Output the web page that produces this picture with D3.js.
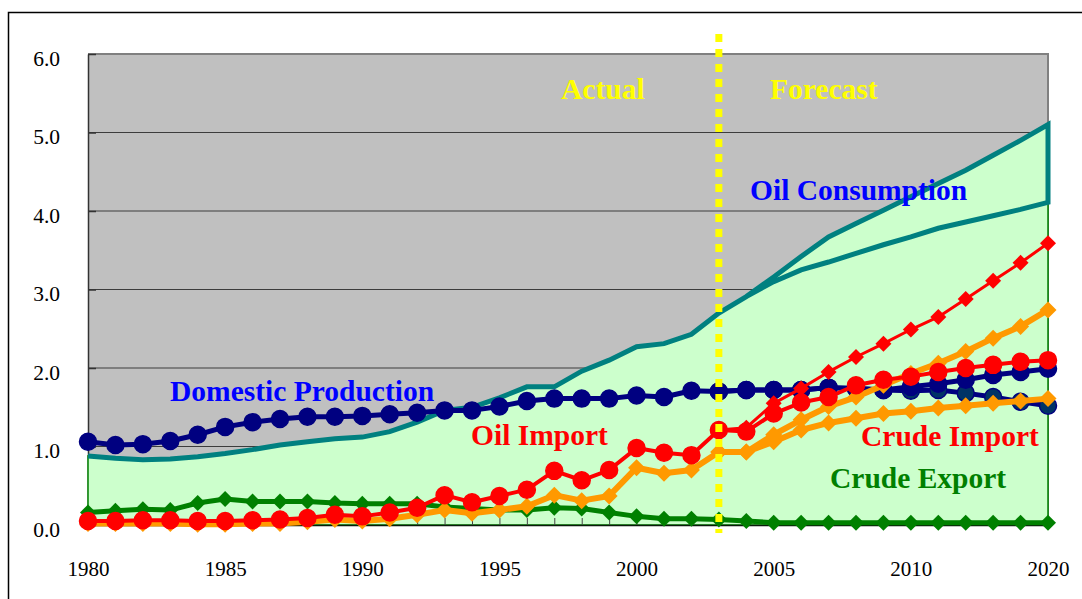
<!DOCTYPE html>
<html>
<head>
<meta charset="utf-8">
<script src="https://cdn.jsdelivr.net/npm/d3@7"></script>
<style>
  html, body { margin: 0; padding: 0; background: #fff; }
  svg { display: block; }
</style>
</head>
<body>
<svg id="chart" width="1082" height="599"></svg>
<script>
// Categories: yearly to 2010, then every second year to 2020
const years = [1980,1981,1982,1983,1984,1985,1986,1987,1988,1989,
               1990,1991,1992,1993,1994,1995,1996,1997,1998,1999,
               2000,2001,2002,2003,2004,2005,2006,2007,2008,2009,
               2010,2012,2014,2016,2018,2020];
const xTickLabels = [1980,1985,1990,1995,2000,2005,2010,2020];
const yTicks = [0,1,2,3,4,5,6];

// Actual values, continued by the high forecast case
const consumption = [0.88,0.85,0.83,0.84,0.87,0.91,0.96,1.02,1.06,1.10,
                     1.12,1.19,1.31,1.46,1.50,1.62,1.76,1.76,1.96,2.10,
                     2.27,2.31,2.43,2.70,2.91,3.16,3.42,3.67,3.84,4.01,
                     4.18,4.35,4.52,4.71,4.90,5.10];
const production  = [1.06,1.02,1.03,1.07,1.15,1.25,1.31,1.35,1.38,1.38,
                     1.39,1.41,1.43,1.46,1.46,1.51,1.58,1.61,1.61,1.61,
                     1.65,1.63,1.71,1.70,1.72,1.72,1.72,1.75,1.74,1.72,
                     1.76,1.80,1.85,1.91,1.95,1.99];
const oilImport   = [0.05,0.05,0.06,0.06,0.05,0.05,0.06,0.07,0.09,0.13,
                     0.11,0.16,0.22,0.38,0.29,0.37,0.45,0.69,0.57,0.70,
                     0.98,0.92,0.89,1.21,1.19,1.42,1.56,1.63,1.78,1.85,
                     1.89,1.95,2.00,2.04,2.08,2.10];
const crudeImport = [0.02,0.02,0.02,0.02,0.01,0.01,0.02,0.02,0.04,0.07,
                     0.05,0.08,0.13,0.19,0.15,0.19,0.24,0.38,0.31,0.37,
                     0.73,0.66,0.70,0.93,0.93,1.15,1.34,1.51,1.63,1.78,
                     1.93,2.06,2.21,2.38,2.53,2.74];
const crudeExport = [0.16,0.18,0.20,0.19,0.28,0.33,0.30,0.30,0.30,0.28,
                     0.27,0.27,0.27,0.23,0.21,0.19,0.19,0.22,0.21,0.16,
                     0.11,0.08,0.08,0.07,0.05,0.03,0.03,0.03,0.03,0.03,
                     0.03,0.03,0.03,0.03,0.03,0.03];

// Alternative forecast case, from 2003 on
const forecastYears    = [2003,2004,2005,2006,2007,2008,2009,2010,2012,2014,2016,2018,2020];
const consumptionAlt   = [2.70,2.91,3.10,3.25,3.35,3.46,3.57,3.67,3.78,3.86,3.94,4.02,4.11];
const productionAlt    = [1.70,1.72,1.72,1.72,1.75,1.74,1.72,1.71,1.72,1.68,1.63,1.57,1.52];
const oilImportAlt     = [1.21,1.24,1.55,1.74,1.95,2.14,2.31,2.49,2.65,2.88,3.11,3.34,3.59];
const crudeImportAlt   = [0.93,0.93,1.06,1.21,1.30,1.36,1.42,1.45,1.49,1.52,1.55,1.58,1.61];

const forecastStart = 2003;

const W = 1082, H = 599;
const plot = { left: 88, right: 1048, top: 54, bottom: 525 };
const serif = '"Liberation Serif", "Times New Roman", Times, serif';

const svg = d3.select('#chart');
const x = d3.scalePoint().domain(years).range([plot.left, plot.right]);
const y = d3.scaleLinear().domain([0, 6]).range([plot.bottom, plot.top]);

const pts = (ys, vs) => ys.map((yr, i) => [yr, vs[i]]);
const line = d3.line().x(d => x(d[0])).y(d => y(d[1]));

// Outer frame
svg.append('path')
  .attr('d', `M8.5,${H + 5} V12.5 H${W + 5}`)
  .attr('fill', 'none').attr('stroke', '#000').attr('stroke-width', 1.5);

// Plot background
svg.append('rect')
  .attr('x', plot.left).attr('y', plot.top)
  .attr('width', plot.right - plot.left).attr('height', plot.bottom - plot.top)
  .attr('fill', '#C0C0C0');

// Horizontal gridlines
svg.append('g').selectAll('line')
  .data(yTicks.filter(v => v > 0 && v < 6)).join('line')
  .attr('x1', plot.left).attr('x2', plot.right)
  .attr('y1', d => y(d)).attr('y2', d => y(d))
  .attr('stroke', '#3c3c3c').attr('stroke-width', 1.2);

// Plot border (top and right)
svg.append('path')
  .attr('d', `M${plot.left},${plot.top} H${plot.right} V${plot.bottom}`)
  .attr('fill', 'none').attr('stroke', '#808080').attr('stroke-width', 2);

// Y axis
const yAxis = svg.append('g')
  .attr('transform', `translate(${plot.left},0)`)
  .call(d3.axisLeft(y).tickValues(yTicks).tickFormat(d3.format('.1f'))
        .tickSize(-8).tickSizeOuter(0).tickPadding(28));
yAxis.select('.domain').attr('stroke', '#333').attr('stroke-width', 1.5);
yAxis.selectAll('.tick line').attr('stroke', '#333').attr('stroke-width', 1.5);
yAxis.selectAll('.tick text')
  .attr('font-family', serif).attr('font-size', 21.5).attr('fill', '#000')
  .attr('dy', '0.52em');

// Consumption area (upper envelope)
const areaGen = d3.area()
  .x(d => x(d[0])).y0(y(0)).y1(d => y(d[1]));
svg.append('path')
  .datum(pts(years, consumption))
  .attr('d', areaGen)
  .attr('fill', '#CCFFCC').attr('stroke', '#008000').attr('stroke-width', 1.5);

// X axis
const xAxis = svg.append('g')
  .attr('transform', `translate(0,${plot.bottom})`)
  .call(d3.axisBottom(x).tickValues(years)
        .tickFormat(d => xTickLabels.includes(d) ? String(d) : '')
        .tickSize(-7).tickSizeOuter(0).tickPadding(51));
xAxis.select('.domain').attr('stroke', '#0a1a0a').attr('stroke-width', 1.5);
xAxis.selectAll('.tick line').attr('stroke', '#444').attr('stroke-width', 1);
xAxis.selectAll('.tick text')
  .attr('font-family', serif).attr('font-size', 21).attr('fill', '#000')
  .attr('dy', '0em');

// Consumption lines: high case, closing down to the alternative case at 2020
const consHigh = pts(years, consumption);
const consAlt = pts(forecastYears, consumptionAlt).reverse();
svg.append('path')
  .attr('d', line(consHigh.concat(consAlt)))
  .attr('fill', 'none').attr('stroke', '#008080').attr('stroke-width', 5)
  .attr('stroke-linejoin', 'miter');

// Series drawing helper
function drawSeries(data, opt) {
  const g = svg.append('g');
  g.append('path').attr('d', line(data))
    .attr('fill', 'none').attr('stroke', opt.color).attr('stroke-width', opt.width)
    .attr('stroke-linejoin', 'round');
  const m = g.selectAll('.m').data(data).join(opt.marker === 'circle' ? 'circle' : 'path');
  if (opt.marker === 'circle') {
    m.attr('cx', d => x(d[0])).attr('cy', d => y(d[1])).attr('r', opt.size)
      .attr('fill', opt.fill || opt.color).attr('stroke', opt.color).attr('stroke-width', 1.5);
  } else {
    const s = opt.size;
    m.attr('d', d => {
      const cx = x(d[0]), cy = y(d[1]);
      return `M${cx},${cy - s}L${cx + s},${cy}L${cx},${cy + s}L${cx - s},${cy}Z`;
    }).attr('fill', opt.fill || opt.color);
  }
}

drawSeries(pts(years, crudeExport), { color: '#008000', width: 5, marker: 'diamond', size: 8 });
drawSeries(pts(forecastYears, productionAlt), { color: '#000080', width: 5, marker: 'circle', size: 8.5, fill: '#003366' });
drawSeries(pts(years, production), { color: '#000080', width: 5, marker: 'circle', size: 8.5 });
drawSeries(pts(forecastYears, crudeImportAlt), { color: '#FF9900', width: 6, marker: 'diamond', size: 8.5 });
drawSeries(pts(years, crudeImport), { color: '#FF9900', width: 6, marker: 'diamond', size: 8.5 });
drawSeries(pts(forecastYears, oilImportAlt), { color: '#FF0000', width: 3, marker: 'diamond', size: 8 });
drawSeries(pts(years, oilImport), { color: '#FF0000', width: 4, marker: 'circle', size: 8.5 });

// Series labels
const labels = [
  { text: 'Actual',              x: 561, y: 99,  color: '#FFFF00' },
  { text: 'Forecast',            x: 770, y: 99,  color: '#FFFF00' },
  { text: 'Oil Consumption',     x: 750, y: 200, color: '#0000FF' },
  { text: 'Domestic Production', x: 170, y: 401, color: '#0000FF' },
  { text: 'Oil Import',          x: 471, y: 445, color: '#FF0000' },
  { text: 'Crude Import',        x: 861, y: 446, color: '#FF0000' },
  { text: 'Crude Export',        x: 830, y: 488, color: '#008000' }
];
svg.append('g').selectAll('text').data(labels).join('text')
  .attr('x', d => d.x).attr('y', d => d.y)
  .attr('fill', d => d.color)
  .attr('font-family', serif).attr('font-weight', 'bold').attr('font-size', 29.5)
  .text(d => d.text);

// Divider between actual and forecast years
svg.append('line')
  .attr('x1', x(forecastStart)).attr('x2', x(forecastStart))
  .attr('y1', 34).attr('y2', 533)
  .attr('stroke', '#FFFF00').attr('stroke-width', 7)
  .attr('stroke-dasharray', '8,7');
</script>
</body>
</html>
